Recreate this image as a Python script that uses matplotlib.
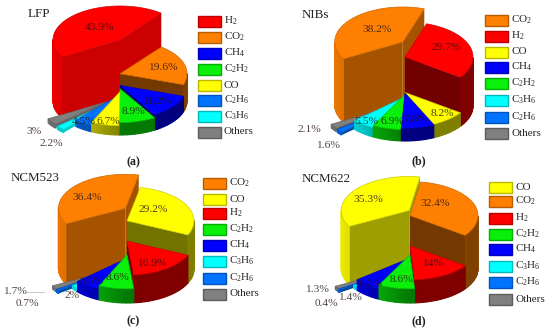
import numpy as np
import matplotlib
matplotlib.use("Agg")
import matplotlib.pyplot as plt
from matplotlib.patches import Polygon, Rectangle

plt.rcParams['font.family'] = ['Liberation Serif', 'DejaVu Serif']
plt.rcParams['mathtext.fontset'] = 'custom'
plt.rcParams['mathtext.rm'] = 'Liberation Serif'

W, H = 550, 333

# gas colours
gas_colors = {
    'H2': (1.0, 0.0, 0.0),
    'CO2': (1.0, 0.5, 0.0),
    'CH4': (0.0, 0.0, 1.0),
    'C2H2': (0.04, 0.94, 0.04),
    'CO': (1.0, 1.0, 0.0),
    'C2H6': (0.0, 0.45, 1.0),
    'C3H6': (0.0, 1.0, 1.0),
    'Others': (0.5, 0.5, 0.5),
}
gas_names = {
    'H2': r'H$_{\mathrm{2}}$',
    'CO2': r'CO$_{\mathrm{2}}$',
    'CH4': r'CH$_{\mathrm{4}}$',
    'C2H2': r'C$_{\mathrm{2}}$H$_{\mathrm{2}}$',
    'CO': 'CO',
    'C2H6': r'C$_{\mathrm{2}}$H$_{\mathrm{6}}$',
    'C3H6': r'C$_{\mathrm{3}}$H$_{\mathrm{6}}$',
    'Others': 'Others',
}

# data, clockwise order (same as the legend)
lfp_gases = ['H2', 'CO2', 'CH4', 'C2H2', 'CO', 'C2H6', 'C3H6', 'Others']
lfp_values = [43.9, 19.6, 11.2, 8.9, 6.7, 4.5, 2.2, 3]
lfp_labels = ['43.9%', '19.6%', '11.2%', '8.9%', '6.7%', '4.5%', '2.2%', '3%']

nib_gases = ['CO2', 'H2', 'CO', 'CH4', 'C2H2', 'C3H6', 'C2H6', 'Others']
nib_values = [38.2, 29.7, 8.2, 7.8, 6.9, 5.5, 1.6, 2.1]
nib_labels = ['38.2%', '29.7%', '8.2%', '7.8%', '6.9%', '5.5%', '1.6%', '2.1%']

n523_gases = ['CO2', 'CO', 'H2', 'C2H2', 'CH4', 'C3H6', 'C2H6', 'Others']
n523_values = [36.4, 29.2, 16.9, 8.6, 6.5, 2, 0.7, 1.7]
n523_labels = ['36.4%', '29.2%', '16.9%', '8.6%', '6.5%', '2%', '0.7%', '1.7%']

n622_gases = ['CO', 'CO2', 'H2', 'C2H2', 'CH4', 'C3H6', 'C2H6', 'Others']
n622_values = [35.3, 32.4, 14, 8.6, 6.6, 1.4, 0.4, 1.3]
n622_labels = ['35.3%', '32.4%', '14%', '8.6%', '6.6%', '1.4%', '0.4%', '1.3%']

# layout, in pixels from the top left of the picture
panels = [
    dict(title='LFP', title_xy=(28, 14), tag='(a)', tag_xy=(133, 162),
         gases=lfp_gases, values=lfp_values, labels=lfp_labels,
         cx=120, base=101, rx=67, ry=34, k=1.39, start=210, wall=0.8,
         pull=[0, 0, 0, 0, 0, 0, 17, 17],
         label_xy=[(100, 28), (163, 68), (157, 101), (133, 112), (108, 121), (84, 122), (51, 143), (34, 132)],
         leg_x=197, leg_y=[21, 37, 53, 69, 85, 100, 116, 132]),
    dict(title='NIBs', title_xy=(302, 15), tag='(b)', tag_xy=(419, 161),
         gases=nib_gases, values=nib_values, labels=nib_labels,
         cx=405, base=106, rx=68, ry=35, k=1.65, start=209, wall=0.65,
         pull=[3, 0, 0, 0, 0, 0, 17, 17],
         label_xy=[(377, 30), (446, 47), (442, 114), (415, 119), (392, 122), (366, 122), (328, 145), (309, 130)],
         leg_x=484, leg_y=[20, 36, 52, 67, 83, 100, 117, 133]),
    dict(title='NCM523', title_xy=(11, 178), tag='(c)', tag_xy=(133, 321),
         gases=n523_gases, values=n523_values, labels=n523_labels,
         cx=127, base=269, rx=67, ry=34, k=1.65, start=207, wall=0.65,
         pull=[2, 0, 0, 0, 0, 0, 17, 17],
         label_xy=[(87, 197), (153, 210), (152, 263), (117, 278), (92, 282), (72, 295), (27, 304), (15, 292)],
         leg_x=202, leg_y=[183, 199, 213, 229, 245, 261, 278, 294]),
    dict(title='NCM622', title_xy=(302, 179), tag='(d)', tag_xy=(419, 321),
         gases=n622_gases, values=n622_values, labels=n622_labels,
         cx=410, base=269, rx=68, ry=34, k=1.65, start=208, wall=0.62,
         pull=[1, 0, 0, 0, 0, 0, 17, 17],
         label_xy=[(368, 199), (435, 204), (433, 264), (402, 279), (370, 283), (350, 297), (326, 303), (317, 290)],
         leg_x=488, leg_y=[187, 201, 218, 234, 249, 266, 282, 299]),
]


def shade(color, f):
    return tuple(c * f for c in color)


def draw_slice(ax, p, a1, a2, value, color, pull):
    # a1 > a2, degrees, runs clockwise
    mid = np.radians((a1 + a2) / 2)
    x0 = p['cx'] + pull * np.cos(mid)
    y0 = p['base'] - pull * np.sin(mid) * p['ry'] / p['rx']
    h = max(value * p['k'], 3)
    t = np.radians(np.linspace(a1, a2, max(int(a1 - a2) // 3, 6)))
    xs = x0 + p['rx'] * np.cos(t)
    ys = y0 - p['ry'] * np.sin(t)

    # flat side walls, only if they face the viewer
    for a, normal in ((a1, a1 + 90), (a2, a2 - 90)):
        r = np.radians(a)
        n = np.radians(normal)
        if np.sin(n) < 0:
            xr, yr = x0 + p['rx'] * np.cos(r), y0 - p['ry'] * np.sin(r)
            f = p['wall'] if np.cos(n) > 0 else 0.45
            ax.add_patch(Polygon([(x0, y0), (xr, yr), (xr, yr - h), (x0, y0 - h)],
                                 fc=shade(color, f), ec='none', zorder=p['z']))
            p['z'] += 1

    # outer wall in strips, brighter on the left side
    for i in range(len(t) - 1):
        tm = (t[i] + t[i + 1]) / 2
        if np.sin(tm) > 0:
            continue
        f = 0.5 + 0.42 * max(0, -np.cos(tm))
        ax.add_patch(Polygon([(xs[i], ys[i]), (xs[i + 1], ys[i + 1]),
                              (xs[i + 1], ys[i + 1] - h), (xs[i], ys[i] - h)],
                             fc=shade(color, f), ec=shade(color, f), lw=0.8, zorder=p['z']))
    p['z'] += 1

    # top face
    top = [(x0, y0 - h)] + list(zip(xs, ys - h))
    ax.add_patch(Polygon(top, fc=color, ec=shade(color, 0.8), lw=0.5, zorder=p['z']))
    p['z'] += 1


fig = plt.figure(figsize=(W / 100, H / 100), dpi=100)
ax = fig.add_axes([0, 0, 1, 1])
ax.set_xlim(0, W)
ax.set_ylim(H, 0)
ax.axis('off')

for p in panels:
    p['z'] = 2
    total = sum(p['values'])
    angles = p['start'] - np.cumsum([0] + [v / total * 360 for v in p['values']])
    # back slices first
    order = sorted(range(len(p['values'])),
                   key=lambda i: -np.sin(np.radians((angles[i] + angles[i + 1]) / 2)))
    for i in order:
        draw_slice(ax, p, angles[i], angles[i + 1], p['values'][i],
                   gas_colors[p['gases'][i]], p['pull'][i])

    for txt, (x, y) in zip(p['labels'], p['label_xy']):
        ax.text(x, y, txt, fontsize=8.2, color=(0.15, 0.07, 0.07), alpha=0.8,
                ha='center', va='center', zorder=200)

    ax.text(p['title_xy'][0], p['title_xy'][1], p['title'], fontsize=9.4,
            color='#222222', ha='left', va='center', zorder=200)
    ax.text(p['tag_xy'][0], p['tag_xy'][1], p['tag'], fontsize=8.6, fontweight='bold',
            color='#222222', ha='center', va='center', zorder=200)

    for gas, y in zip(p['gases'], p['leg_y']):
        c = gas_colors[gas]
        ax.add_patch(Rectangle((p['leg_x'] + 0.5, y - 5), 23, 10.5, fc=c,
                               ec=shade(c, 0.72), lw=1.0, zorder=200))
        ax.text(p['leg_x'] + 27, y, gas_names[gas], fontsize=8, color='#222222',
                ha='left', va='center', zorder=200)

# leader for the 1.7% label of NCM523
ax.plot([27, 44], [292, 292], color='#c8c8c8', lw=0.7, zorder=1)

fig.savefig('out.png', dpi=100)
